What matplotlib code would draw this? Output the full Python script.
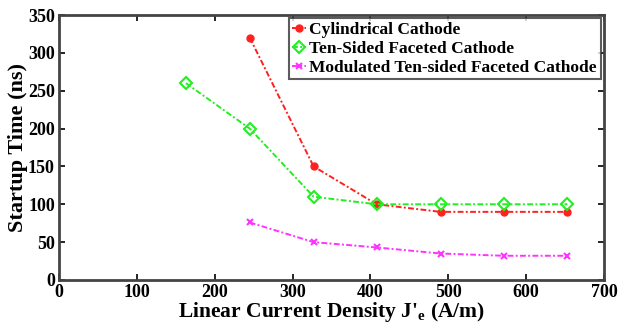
import matplotlib
matplotlib.use("Agg")
import matplotlib.pyplot as plt

plt.rcParams['font.family'] = ['Liberation Serif', 'DejaVu Serif']
plt.rcParams['mathtext.fontset'] = 'custom'
plt.rcParams['mathtext.rm'] = 'Liberation Serif:bold'
plt.rcParams['mathtext.it'] = 'Liberation Serif:bold'

x_cyl = [245, 327, 408, 490, 571, 653]
y_cyl = [320, 150, 100, 90, 90, 90]
x_ten = [163, 245, 327, 408, 490, 571, 653]
y_ten = [260, 200, 110, 100, 100, 100, 100]
x_mod = [245, 327, 408, 490, 571, 653]
y_mod = [76, 50, 43, 35, 32, 32]
labels = ["Cylindrical Cathode", "Ten-Sided Faceted Cathode", "Modulated Ten-sided Faceted Cathode"]

fig = plt.figure(figsize=(6.2, 3.29), dpi=100)
ax = fig.add_axes([59/620, 1-280/329, (604-59)/620, (280-15)/329])

ls = (0, (3, 1.2, 1, 1.2))
ax.plot(x_cyl, y_cyl, color='#ff2020', linestyle=ls, lw=1.4, marker='o', ms=5, label=labels[0])
ax.plot(x_ten, y_ten, color='#22ee22', linestyle=ls, lw=1.4, marker='D', ms=6, mfc='none', mew=1.5, label=labels[1])
ax.plot(x_mod, y_mod, color='#ff33ff', linestyle=ls, lw=1.4, marker='x', ms=5, mew=1.5, label=labels[2])

ax.set_xlim(0, 700)
ax.set_ylim(0, 350)
ax.set_xticks(range(0, 701, 100))
ax.set_yticks(range(0, 351, 50))
ax.tick_params(direction='in', top=True, right=True, length=4, width=1.2, labelsize=13)
ax.tick_params(axis='x', pad=3)
ax.tick_params(axis='y', pad=3)
for lab in ax.get_xticklabels() + ax.get_yticklabels():
    lab.set_fontweight('bold')
for s in ax.spines.values():
    s.set_linewidth(2)
    s.set_color('#444444')

ax.set_xlabel("Linear Current Density J'$_\\mathregular{e}$ (A/m)", fontsize=15.5, fontweight='bold', labelpad=-1)
ax.set_ylabel("Startup Time (ns)", fontsize=16, fontweight='bold', labelpad=0)

leg = ax.legend(loc='upper right', prop={'weight': 'bold', 'size': 12.5}, frameon=True, fancybox=False,
                handlelength=0.8, handletextpad=0.2, borderpad=0.2, labelspacing=0.15, borderaxespad=0.2)
leg.get_frame().set_edgecolor('#333333')
leg.get_frame().set_linewidth(1.5)

fig.savefig("out.png", dpi=100)
